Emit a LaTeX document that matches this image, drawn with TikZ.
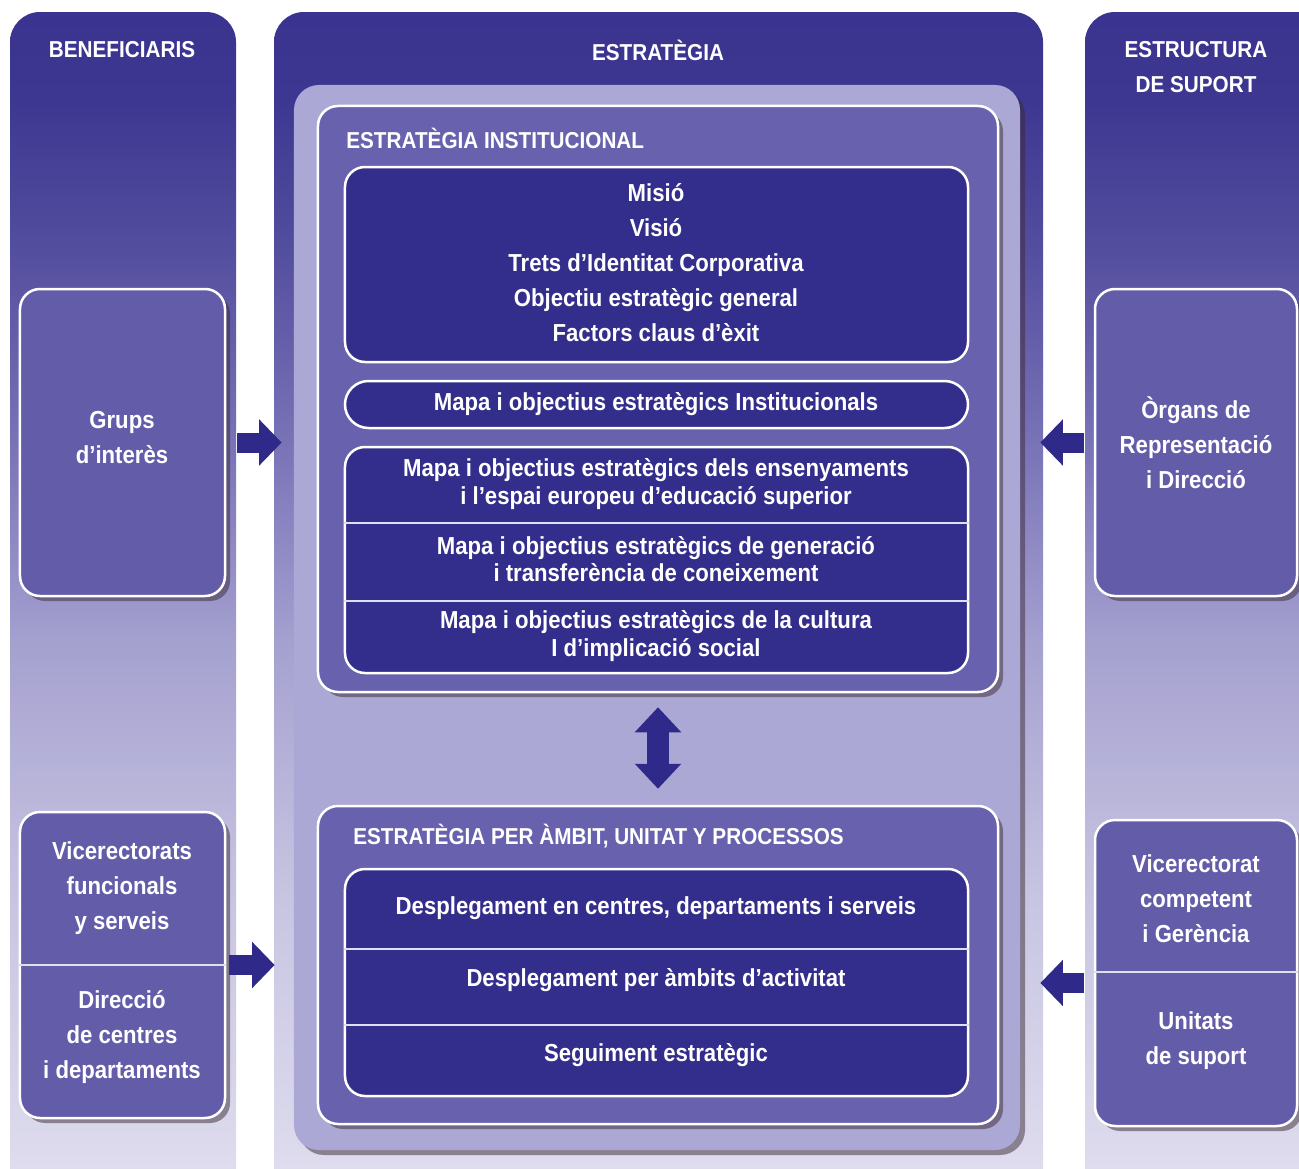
\documentclass[tikz,border=0pt]{standalone}
\usepackage{fontspec}
\setmainfont{Liberation Sans}[FakeStretch=0.9]
\usetikzlibrary{arrows.meta,shadows}

\definecolor{navy}{HTML}{332D8B}
\definecolor{midpurple}{HTML}{6861AE}
\definecolor{sidepurple}{HTML}{635CA9}
\definecolor{lavender}{HTML}{ACA8D5}
\definecolor{arrowblue}{HTML}{2F2A8A}
\definecolor{shadowbrown}{HTML}{3A2A35}
\definecolor{ca}{HTML}{E4E2F1}
\definecolor{cb}{HTML}{DCDAEC}
\definecolor{cc}{HTML}{C8C5E2}
\definecolor{cd}{HTML}{A6A2D0}
\definecolor{ce}{HTML}{7A74B8}
\definecolor{cf}{HTML}{544E9F}
\definecolor{cg}{HTML}{3D3791}
\definecolor{ch}{HTML}{3A3490}

% columnes: fosc a dalt, clar a baix
\pgfdeclareverticalshading{colshade}{100bp}{%
  color(0bp)=(ca); color(25bp)=(ca); color(27.9bp)=(cb); color(38.2bp)=(cc);
  color(48.6bp)=(cd); color(56.9bp)=(ce); color(65.1bp)=(cf); color(71.4bp)=(cg);
  color(75bp)=(ch); color(100bp)=(ch)}

\tikzset{
  colbox/.style={shading=colshade, rounded corners=6mm},
  boxshadow/.style={drop shadow={shadow xshift=1mm, shadow yshift=-1mm, opacity=.5, fill=shadowbrown}},
  lavbox/.style={fill=lavender, rounded corners=5mm, inner sep=0pt, boxshadow},
  purplebox/.style={draw=white, line width=0.5mm, fill=midpurple, rounded corners=4mm, inner sep=0pt, boxshadow},
  sidebox/.style={purplebox, fill=sidepurple},
  navybox/.style={draw=white, line width=0.5mm, fill=navy, rounded corners=4mm, inner sep=0pt},
  divider/.style={draw=white!85!navy, line width=0.4mm},
  headtxt/.style={text=white, inner sep=0pt, align=center, font=\bfseries\fontsize{13.1}{20}\selectfont},
  txt/.style={text=white, inner sep=0pt, align=center, font=\bfseries\fontsize{14}{19.9}\selectfont},
  txttwo/.style={txt, font=\bfseries\fontsize{14}{15.4}\selectfont},
  bigarrow/.style={draw=arrowblue, line width=4mm, -{Triangle[width=9mm,length=4.5mm]}}
}

\begin{document}
\begin{tikzpicture}[x=0.2mm, y=-0.2mm]
\useasboundingbox (0,0) rectangle (1299,1169);
\clip (0,0) rectangle (1299,1169);
\fill[white] (0,0) rectangle (1299,1169);

% les tres columnes
\shade[colbox] (10,12) rectangle (236,1220);
\shade[colbox] (274,12) rectangle (1043,1220);
\shade[colbox] (1085,12) rectangle (1340,1220);

\node[headtxt] (benef) at (122,50) {BENEFICIARIS};
\node[headtxt] (estrat) at (658,50) {ESTRATÈGIA};
\node[headtxt] (suport) at (1196,67) {ESTRUCTURA\\DE SUPORT};

% bloc central
\node[lavbox, minimum width=145.2mm, minimum height=213mm] (core) at (657,617.5) {};

\node[purplebox, minimum width=136mm, minimum height=117.2mm] (inst) at (658,399) {};
\node[headtxt, anchor=west] (insttitle) at (346,138) {ESTRATÈGIA INSTITUCIONAL};

\node[navybox, minimum width=124.6mm, minimum height=39mm] (mvv) at (656.5,264.5) {};
\node[txt] (mvvtxt) at (656,263) {Misió\\Visió\\Trets d’Identitat Corporativa\\Objectiu estratègic general\\Factors claus d’èxit};

\node[navybox, rounded corners=4.7mm, minimum width=124.6mm, minimum height=9.4mm] (mapa) at (656.5,404.5) {};
\node[txt] (mapatxt) at (656,404) {Mapa i objectius estratègics Institucionals};

\node[navybox, minimum width=124.6mm, minimum height=45.2mm] (objs) at (656.5,560) {};
\draw[divider] (objs.west |- 0,523) -- (objs.east |- 0,523);
\draw[divider] (objs.west |- 0,601) -- (objs.east |- 0,601);
\node[txttwo] (ens) at (656,484) {Mapa i objectius estratègics dels ensenyaments\\i l’espai europeu d’educació superior};
\node[txttwo] (gen) at (656,559) {Mapa i objectius estratègics de generació\\i transferència de coneixement};
\node[txttwo] (cult) at (656,636) {Mapa i objectius estratègics de la cultura\\I d’implicació social};

\node[purplebox, minimum width=136mm, minimum height=63.6mm] (ambit) at (658,965) {};
\node[headtxt, anchor=west] (ambittitle) at (353,836) {ESTRATÈGIA PER ÀMBIT, UNITAT Y PROCESSOS};

\node[navybox, minimum width=124.6mm, minimum height=45.4mm] (desp) at (656.5,982.5) {};
\draw[divider] (desp.west |- 0,949) -- (desp.east |- 0,949);
\draw[divider] (desp.west |- 0,1025) -- (desp.east |- 0,1025);
\node[txt] (centres) at (656,908) {Desplegament en centres, departaments i serveis};
\node[txt] (activ) at (656,980) {Desplegament per àmbits d’activitat};
\node[txt] (segui) at (656,1055) {Seguiment estratègic};

% columna esquerra
\node[sidebox, minimum width=41mm, minimum height=61.4mm] (grups) at (122.5,442.5) {};
\node[txt] (grupstxt) at (122,438) {Grups\\d’interès};
\node[sidebox, minimum width=41mm, minimum height=61.2mm] (vice) at (122.5,965) {};
\draw[divider] (vice.west |- 0,965) -- (vice.east |- 0,965);
\node[txt] (vicetxt) at (122,888) {Vicerectorats\\funcionals\\y serveis};
\node[txt] (direcc) at (122,1037) {Direcció\\de centres\\i departaments};

% columna dreta
\node[sidebox, minimum width=40.4mm, minimum height=61.4mm] (organs) at (1196,442.5) {};
\node[txt] (organstxt) at (1196,443) {Òrgans de\\Representació\\i Direcció};
\node[sidebox, minimum width=40.4mm, minimum height=61.2mm] (vcomp) at (1196,973) {};
\draw[divider] (vcomp.west |- 0,972) -- (vcomp.east |- 0,972);
\node[txt] (vcomptxt) at (1196,899) {Vicerectorat\\competent\\i Gerència};
\node[txt] (unitats) at (1196,1041) {Unitats\\de suport};

% fletxes
\draw[bigarrow, shorten <=2.2mm, shorten >=2.4mm] (grups.east) -- (grups.east -| core.west);
\draw[bigarrow, shorten <=0.6mm, shorten >=3.8mm] (vice.east) -- (vice.east -| core.west);
\draw[bigarrow, shorten <=2mm, shorten >=4mm] (organs.west) -- (organs.west -| core.east);
\draw[bigarrow, shorten <=2mm, shorten >=4mm] ([yshift=-2mm]vcomp.west) -- ([yshift=-2mm]vcomp.west -| core.east);
\draw[bigarrow, line width=4.4mm, {Triangle[width=9mm,length=5mm]}-{Triangle[width=9mm,length=5mm]},
  shorten <=2.8mm, shorten >=3.2mm] (inst.south) -- (ambit.north);
\end{tikzpicture}
\end{document}
